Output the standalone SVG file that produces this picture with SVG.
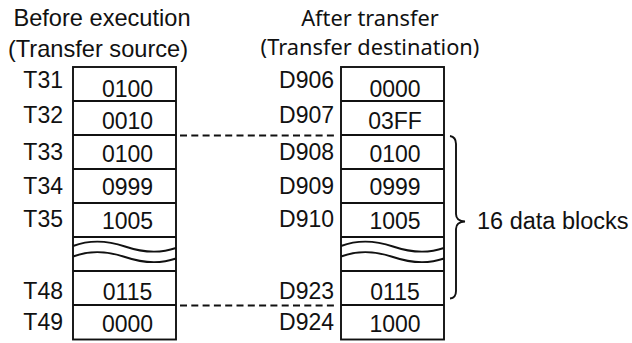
<svg xmlns="http://www.w3.org/2000/svg" width="632" height="343" viewBox="0 0 632 343">
<style>
.box{fill:#fff;stroke:#111;stroke-width:1.9}
.ln{stroke:#111;stroke-width:1.9;fill:none}
.lbl{font-family:"Liberation Sans",Arial,sans-serif;font-size:23px;fill:#111;text-anchor:end}
.val{font-family:"Liberation Sans",Arial,sans-serif;font-size:23px;fill:#111;text-anchor:middle}
.hdl{font-family:"Liberation Sans",Arial,sans-serif;font-size:23.6px;fill:#111;text-anchor:middle}
.hdr{font-family:"Noto Sans","Open Sans",sans-serif;font-size:21.8px;fill:#111;text-anchor:middle}
.dash{stroke:#111;stroke-width:2.2;stroke-dasharray:7 4.3;fill:none}
</style>
<rect width="632" height="343" fill="#fff"/>
<g id="header-left">
<text class="hdl" x="102" y="26">Before execution</text>
<text class="hdl" x="98" y="57">(Transfer source)</text>
</g>
<g id="header-right">
<text class="hdr" x="370" y="26">After transfer</text>
<text class="hdr" x="370" y="55">(Transfer destination)</text>
</g>
<g id="source-column">
<rect class="box" x="73" y="67" width="103" height="272.5"/>
<g class="ln">
<line x1="73" y1="101" x2="176" y2="101"/>
<line x1="73" y1="135" x2="176" y2="135"/>
<line x1="73" y1="169" x2="176" y2="169"/>
<line x1="73" y1="203" x2="176" y2="203"/>
<line x1="73" y1="237" x2="176" y2="237"/>
<line x1="73" y1="271" x2="176" y2="271"/>
<line x1="73" y1="305" x2="176" y2="305"/>
<path d="M73,246 Q97,237 125,246.5 T176,248"/>
<path d="M73,256.5 Q97,247.5 125,257 T176,258.5"/>
</g>
</g>
<g id="T31"><text class="lbl" x="63" y="87.5">T31</text><text class="val" x="127.5" y="96.5">0100</text></g>
<g id="T32"><text class="lbl" x="63" y="123">T32</text><text class="val" x="127.5" y="128.5">0010</text></g>
<g id="T33"><text class="lbl" x="63" y="160">T33</text><text class="val" x="127.5" y="161.5">0100</text></g>
<g id="T34"><text class="lbl" x="63" y="193.5">T34</text><text class="val" x="127.5" y="195">0999</text></g>
<g id="T35"><text class="lbl" x="63" y="227">T35</text><text class="val" x="127.5" y="228.5">1005</text></g>
<g id="T48"><text class="lbl" x="63" y="298.5">T48</text><text class="val" x="127.5" y="299.5">0115</text></g>
<g id="T49"><text class="lbl" x="63" y="330">T49</text><text class="val" x="127.5" y="331.5">0000</text></g>
<g id="destination-column">
<rect class="box" x="341" y="67" width="103" height="272.5"/>
<g class="ln">
<line x1="341" y1="101" x2="444" y2="101"/>
<line x1="341" y1="135" x2="444" y2="135"/>
<line x1="341" y1="169" x2="444" y2="169"/>
<line x1="341" y1="203" x2="444" y2="203"/>
<line x1="341" y1="237" x2="444" y2="237"/>
<line x1="341" y1="271" x2="444" y2="271"/>
<line x1="341" y1="305" x2="444" y2="305"/>
<path d="M341,246 Q365,237 393,246.5 T444,248"/>
<path d="M341,256.5 Q365,247.5 393,257 T444,258.5"/>
</g>
</g>
<g id="D906"><text class="lbl" x="334" y="88">D906</text><text class="val" x="395" y="96.5">0000</text></g>
<g id="D907"><text class="lbl" x="334" y="123">D907</text><text class="val" x="395" y="128.5">03FF</text></g>
<g id="D908"><text class="lbl" x="334" y="160">D908</text><text class="val" x="395" y="161.5">0100</text></g>
<g id="D909"><text class="lbl" x="334" y="193.5">D909</text><text class="val" x="395" y="195">0999</text></g>
<g id="D910"><text class="lbl" x="334" y="227">D910</text><text class="val" x="395" y="228.5">1005</text></g>
<g id="D923"><text class="lbl" x="334" y="298.5">D923</text><text class="val" x="395" y="299.5">0115</text></g>
<g id="D924"><text class="lbl" x="334" y="330">D924</text><text class="val" x="395" y="331.5">1000</text></g>
<g id="connectors">
<line class="dash" x1="180" y1="135.5" x2="338" y2="135.5"/>
<line class="dash" x1="180" y1="305.5" x2="338" y2="305.5"/>
</g>
<g id="brace">
<path class="ln" d="M450,136 Q456,137 456,144 L456,214 Q456,221 465,221.5 Q456,222 456,229 L456,291 Q456,298 450,298.5"/>
<text x="477" y="228.5" font-family="Liberation Sans, Arial, sans-serif" font-size="23.5" fill="#111">16 data blocks</text>
</g>
</svg>
